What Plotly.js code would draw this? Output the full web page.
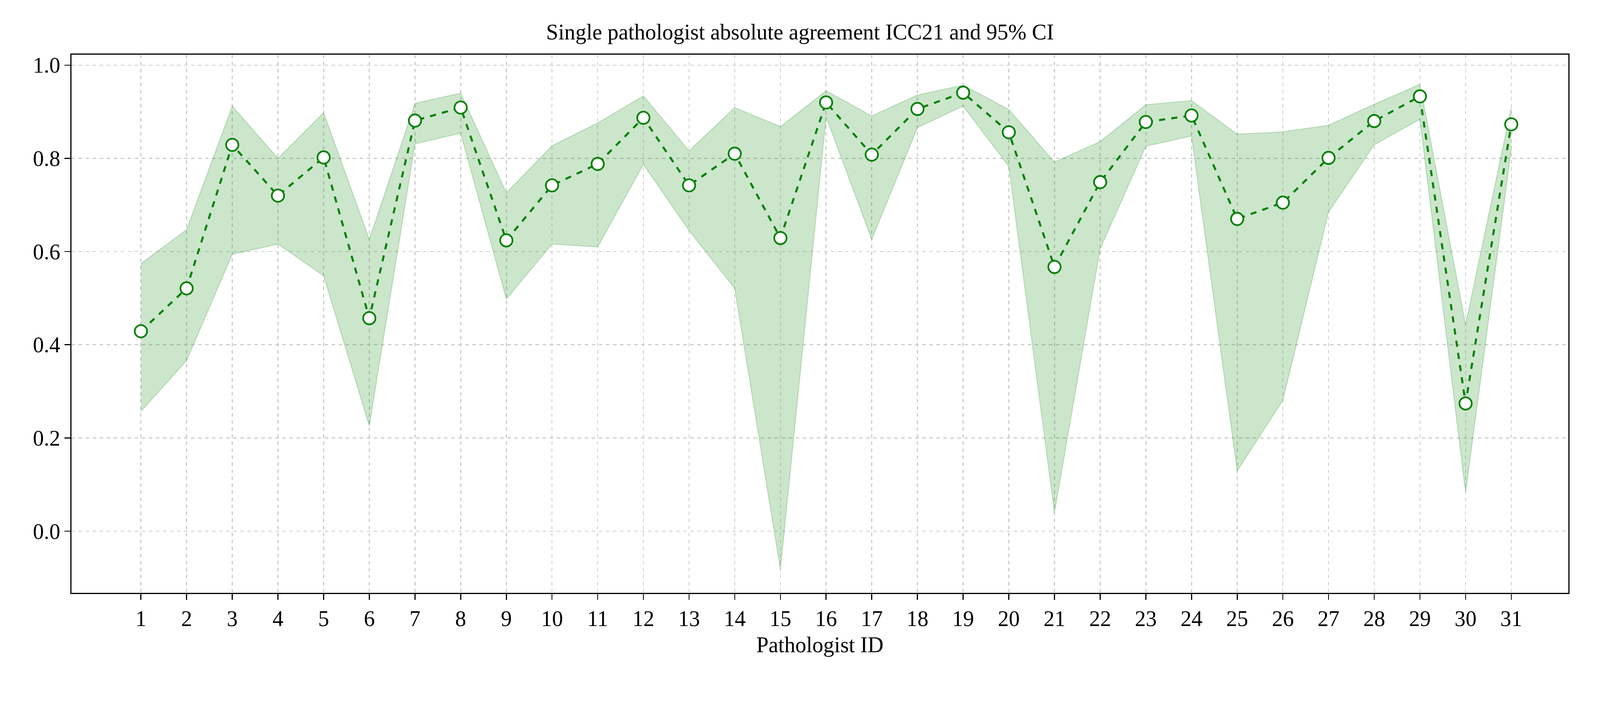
<!DOCTYPE html>
<html>
<head>
<meta charset="utf-8">
<script src="https://cdn.plot.ly/plotly-3.0.1.min.js"></script>
<style>html,body{margin:0;padding:0;background:#fff;overflow:hidden}#chart{width:100vw;height:100vh}</style>
</head>
<body>
<div id="chart"></div>
<script>
// pathologist ids and ICC21 with 95% CI bounds
const ids = Array.from({length: 31}, (_, i) => i + 1)
const icc = [0.429, 0.521, 0.829, 0.720, 0.802, 0.457, 0.881, 0.909, 0.624, 0.742,
    0.788, 0.887, 0.742, 0.810, 0.629, 0.920, 0.808, 0.906, 0.941, 0.856,
    0.567, 0.749, 0.878, 0.892, 0.670, 0.705, 0.801, 0.880, 0.933, 0.274, 0.873]
const ciUpper = [0.574, 0.647, 0.912, 0.800, 0.898, 0.626, 0.918, 0.940, 0.726, 0.827,
    0.876, 0.934, 0.816, 0.909, 0.868, 0.945, 0.891, 0.936, 0.957, 0.905,
    0.792, 0.836, 0.915, 0.924, 0.852, 0.857, 0.871, 0.916, 0.959, 0.443, 0.909]
const ciLower = [0.257, 0.366, 0.594, 0.616, 0.548, 0.226, 0.831, 0.854, 0.498, 0.616,
    0.610, 0.787, 0.645, 0.521, -0.082, 0.889, 0.626, 0.866, 0.912, 0.783,
    0.040, 0.606, 0.826, 0.848, 0.129, 0.281, 0.685, 0.829, 0.884, 0.083, 0.819]

const font = "Liberation Serif, Times New Roman, serif"
const band = 'rgba(0,128,0,0.2)'

const W = window.innerWidth
const H = window.innerHeight
const k = W / 4676   // scale everything from the 4676 px design

const data = [
    {x: ids, y: ciLower, mode: 'lines', line: {color: band, width: 3 * k}, hoverinfo: 'skip', showlegend: false},
    {x: ids, y: ciUpper, mode: 'lines', fill: 'tonexty', fillcolor: band,
        line: {color: band, width: 3 * k}, hoverinfo: 'skip', showlegend: false},
    {x: ids, y: icc, mode: 'lines+markers', showlegend: false,
        line: {color: 'green', width: 6 * k, dash: 'dash'},
        marker: {size: 36 * k, color: 'white', line: {color: 'green', width: 5 * k}}}
]

const axisStyle = {
    showline: true, mirror: true, linecolor: 'black', linewidth: 3 * k,
    ticks: 'outside', ticklen: 17 * k, tickwidth: 3 * k, tickcolor: 'black',
    showgrid: true, gridcolor: '#cccccc', gridwidth: 3 * k, griddash: 'dash',
    zeroline: false, tickfont: {family: font, size: 64 * k, color: 'black'}
}

const layout = {
    width: W, height: H,
    margin: {l: 209 * k, r: 93 * k, t: 140 * H / 1800, b: 282 * H / 1800},
    paper_bgcolor: 'white', plot_bgcolor: 'white',
    title: {text: 'Single pathologist absolute agreement ICC21 and 95% CI',
        font: {family: font, size: 64 * k, color: 'black'}, x: 0.5, xanchor: 'center', y: 0.955, yanchor: 'middle'},
    xaxis: Object.assign({}, axisStyle, {
        range: [-0.52, 32.25], tickvals: ids, ticktext: ids.map(String),
        title: {text: 'Pathologist ID', font: {family: font, size: 64 * k, color: 'black'}, standoff: 20 * k}
    }),
    yaxis: Object.assign({}, axisStyle, {
        range: [-0.1325, 1.0225], tickvals: [0, 0.2, 0.4, 0.6, 0.8, 1.0], tickformat: '.1f'
    })
}

Plotly.newPlot('chart', data, layout, {displayModeBar: false, staticPlot: true})
</script>
</body>
</html>
